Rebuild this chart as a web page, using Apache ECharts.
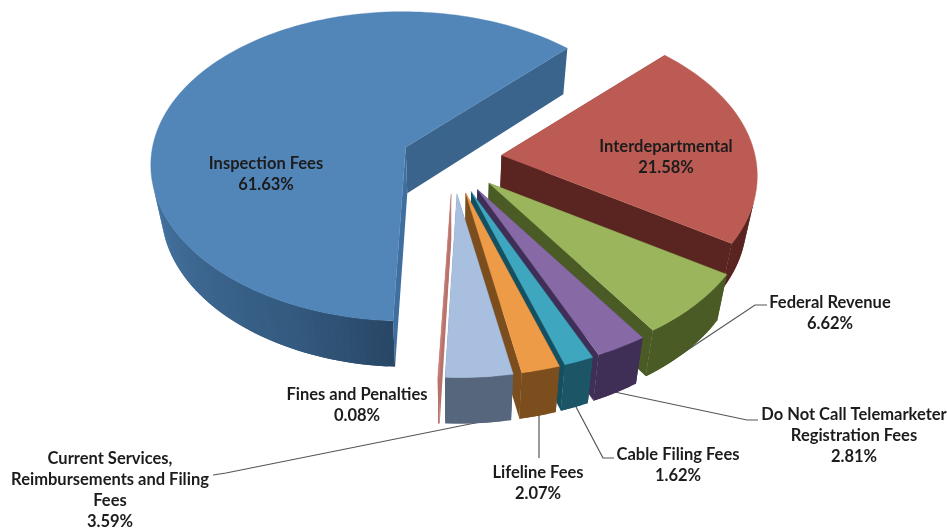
<!DOCTYPE html>
<html><head><meta charset="utf-8">
<style>html,body{margin:0;padding:0;background:#fff}#c{width:947px;height:529px}</style>
<script src="https://cdn.jsdelivr.net/npm/echarts@6/dist/echarts.min.js"></script>
</head><body><div id="c"></div>
<script>
// DATA: clockwise from the Interdepartmental slice
const categories = ['Interdepartmental','Federal Revenue','Do Not Call Telemarketer Registration Fees','Cable Filing Fees','Lifeline Fees','Current Services, Reimbursements and Filing Fees','Fines and Penalties','Inspection Fees'];
const labelNames = ['Interdepartmental','Federal Revenue','Do Not Call Telemarketer\nRegistration Fees','Cable Filing Fees','Lifeline Fees','Current Services,\nReimbursements and Filing\nFees','Fines and Penalties','Inspection Fees'];
const shares = [21.58,6.62,2.81,1.62,2.07,3.59,0.08,61.63];

// STYLE
const topColors  = ['#BC5B53','#9BB55D','#8769A5','#3FA6C0','#EE9B47','#A9BFE0','#C8807A','#5285B8'];
const wallColors = ['#5A2420','#4A5B26','#3F2E55','#1C5566','#7C4E1E','#56667C','#B8736C','#3A648C'];
const edgeColors = ['#5A2420','#4A5B26','#3F2E55','#155060','#7C4E1E','#56667C','#B8736C','#3F6F9F'];
// LAYOUT
const startAngle = 43, drawOrder = [7,0,1,2,3,4,5,6];
const geo = {cx:452, cy:160, ex:50, ey:34, rx:256, ry:154.6, p:0.124, t:46, k:0.035, grow:0.0012, shearX:0.04, shearY:0.02};
const labelAnchors = [[666,147],[830,303],[854,415],[678,455],[538,473],[110,459],[357,395],[266,164]];
const leaderLines = [
  [[680,355],[755,305],[767,305]],
  [[610,391],[747,420],[758,420]],
  [[575,405],[603,458],[614,458]],
  [[539,412],[539,458]],
  [[213,475],[226,473],[490,420]]
];

const rad = d => d*Math.PI/180;
const starts = []; let acc = startAngle;
const total = shares.reduce((a,b)=>a+b,0);
shares.forEach(s => { starts.push(acc); acc += s/total*360; });

function proj(a,tip){
  const u=Math.sin(rad(a)), v=-Math.cos(rad(a)), w=1-geo.p*v;
  const s=1+geo.grow*(tip[1]-geo.cy);
  const sx=s*geo.rx*u/w, sy=s*geo.ry*v/w;
  return [tip[0]+sx-geo.shearX*sy, tip[1]+sy+geo.shearY*sx];
}
const down = pt => [pt[0]-geo.k*(pt[0]-geo.cx), pt[1]+geo.t];
const mix = (a,b,t) => {
  const h=c=>[1,3,5].map(i=>parseInt(c.substr(i,2),16));
  const A=h(a),B=h(b);
  return 'rgb('+A.map((x,i)=>Math.round(x+(B[i]-x)*t)).join(',')+')';
};
function wallShade(i,a){
  if(i!==7) return wallColors[i];
  if(a<=200) return mix('#294766','#33597E',Math.max(0,(a-181)/19));
  if(a<=270) return mix('#33597E','#4A7BAA',(a-200)/70);
  return '#4A7BAA';
}
const quad=(pts,fill)=>({type:'polygon',silent:true,shape:{points:pts},style:{fill}});

function renderSlice(params,api){
  const i=drawOrder[params.dataIndex];
  const sweep=api.value(0)/total*360, a0=starts[i], mid=a0+sweep/2;
  const tip=[geo.cx+geo.ex*Math.sin(rad(mid)), geo.cy-geo.ey*Math.cos(rad(mid))];
  const n=Math.max(2,Math.ceil(sweep/1.5));
  const arc=[];
  for(let j=0;j<=n;j++){const a=a0+sweep*j/n; arc.push({a,p:proj(a,tip)});}
  const kids=[];
  // radial walls
  const first=arc[0].p,last=arc[n].p;
  kids.push(quad([tip,down(tip),down(first),first],edgeColors[i]));
  kids.push(quad([tip,down(tip),down(last),last],i===7?'#3A648C':edgeColors[i]));
  // outer wall: only the stretch that faces the viewer; each piece overlaps the next
  for(let j=0;j<n;j++){
    const p=arc[j].p,q=arc[Math.min(n,j+2)].p,dp=down(p);
    const cross=(q[0]-p[0])*(dp[1]-p[1])-(q[1]-p[1])*(dp[0]-p[0]);
    if(cross<0) kids.push(quad([p,q,down(q),dp],wallShade(i,arc[j].a)));
  }
  // top face
  kids.push({type:'polygon',silent:true,shape:{points:[tip].concat(arc.map(o=>o.p))},style:{fill:topColors[i],stroke:topColors[i],lineWidth:0.4}});
  return {type:'group',children:kids};
}
function renderLeader(params,api){
  return {type:'polyline',silent:true,shape:{points:leaderLines[api.value(0)]},style:{fill:null,stroke:'#555',lineWidth:1.2}};
}
function renderLabel(params,api){
  const i=api.value(0);
  return {type:'text',silent:true,style:{
    x:labelAnchors[i][0],y:labelAnchors[i][1]-10.5,
    text:labelNames[i]+'\n'+shares[i].toFixed(2)+'%',
    fill:'#1c1c1c',font:'bold 16.5px Lato',align:'center',verticalAlign:'top',lineHeight:21}};
}
const chart=echarts.init(document.getElementById('c'),null,{renderer:'canvas'});
chart.setOption({
  animation:false,
  backgroundColor:'#fff',
  series:[
    {type:'custom',coordinateSystem:'none',z:1,renderItem:renderLeader,data:leaderLines.map((_,i)=>[i])},
    {type:'custom',coordinateSystem:'none',z:2,renderItem:renderSlice,data:drawOrder.map(i=>[shares[i]])},
    {type:'custom',coordinateSystem:'none',z:3,renderItem:renderLabel,data:categories.map((_,i)=>[i])}
  ]
});
</script></body></html>
